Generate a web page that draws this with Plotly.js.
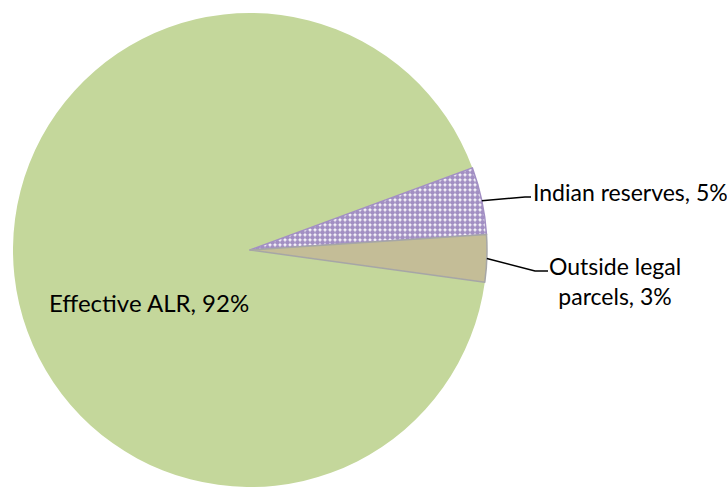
<!DOCTYPE html>
<html>
<head>
<meta charset="utf-8">
<script src="https://cdn.plot.ly/plotly-3.0.1.min.js"></script>
<style>html,body{margin:0;padding:0;background:#fff;}#chart{width:727px;height:487px;}</style>
</head>
<body>
<div id="chart"></div>
<script>
// Data
const labels = ['Effective ALR', 'Indian reserves', 'Outside legal parcels'];
const labelText = ['Effective ALR', 'Indian reserves', 'Outside legal<br>parcels'];
const values = [92.2, 4.6, 3.2];
const colors = ['#C4D79B', '#FFFFFF', '#C4BD97'];

const W = 727, H = 487;
const cx = 250, cy = 250, R = 237;
const rotation = 97.8;

const total = values.reduce((a, b) => a + b, 0);
const pct = values.map(v => Math.round(v / total * 100));

// mid-angle anchors on pie edge (clockwise from 12 o'clock)
const anchors = [];
let start = rotation;
values.forEach(v => {
  const span = v / total * 360;
  const mid = (start + span / 2) * Math.PI / 180;
  anchors.push([cx + R * Math.sin(mid), cy - R * Math.cos(mid)]);
  start += span;
});
const px = x => x / W;
const py = y => 1 - y / H;

const trace = {
  type: 'pie',
  labels: labels,
  values: values,
  sort: false,
  direction: 'clockwise',
  rotation: rotation,
  textinfo: 'none',
  hoverinfo: 'label+percent',
  domain: {x: [(cx - R) / W, (cx + R) / W], y: [(H - cy - R) / H, (H - cy + R) / H]},
  marker: {
    colors: colors,
    line: {color: ['#C4D79B', '#A28FC3', '#A6A6A6'], width: [0, 1.5, 1.5]},
    pattern: {shape: ['', '.', ''], fgcolor: ['#C4D79B', '#A28FC3', '#C4BD97'], bgcolor: colors, size: 5, solidity: 0.75}
  }
};

const fontL = {family: 'Lato, "Open Sans", sans-serif', size: 24, color: '#000'};
const fontR = {family: 'Lato, "Open Sans", sans-serif', size: 23, color: '#000'};

const leader = [
  null,
  [anchors[1], [525, 197], [531, 197]],
  [anchors[2], [535, 271], [548, 271]]
];
const shapes = [];
leader.forEach(pts => {
  if (!pts) return;
  const d = 'M' + pts.map(p => px(p[0]) + ',' + py(p[1])).join(' L');
  shapes.push({type: 'path', xref: 'paper', yref: 'paper', path: d, line: {color: '#000', width: 1.5}});
});

const annotations = [
  {x: px(47), y: py(302), text: labelText[0] + ', ' + pct[0] + '%', xanchor: 'left', yanchor: 'middle', font: fontL},
  {x: px(531), y: py(192), text: labelText[1] + ', ' + pct[1] + '%', xanchor: 'left', yanchor: 'middle', font: fontR},
  {x: px(615), y: py(281), text: labelText[2] + ', ' + pct[2] + '%', xanchor: 'center', yanchor: 'middle', align: 'center', font: fontR}
].map(a => Object.assign({xref: 'paper', yref: 'paper', showarrow: false}, a));

const layout = {
  width: W, height: H,
  margin: {l: 0, r: 0, t: 0, b: 0},
  paper_bgcolor: '#fff',
  showlegend: false,
  shapes: shapes,
  annotations: annotations
};

Plotly.newPlot('chart', [trace], layout, {displayModeBar: false, staticPlot: true});
</script>
</body>
</html>
